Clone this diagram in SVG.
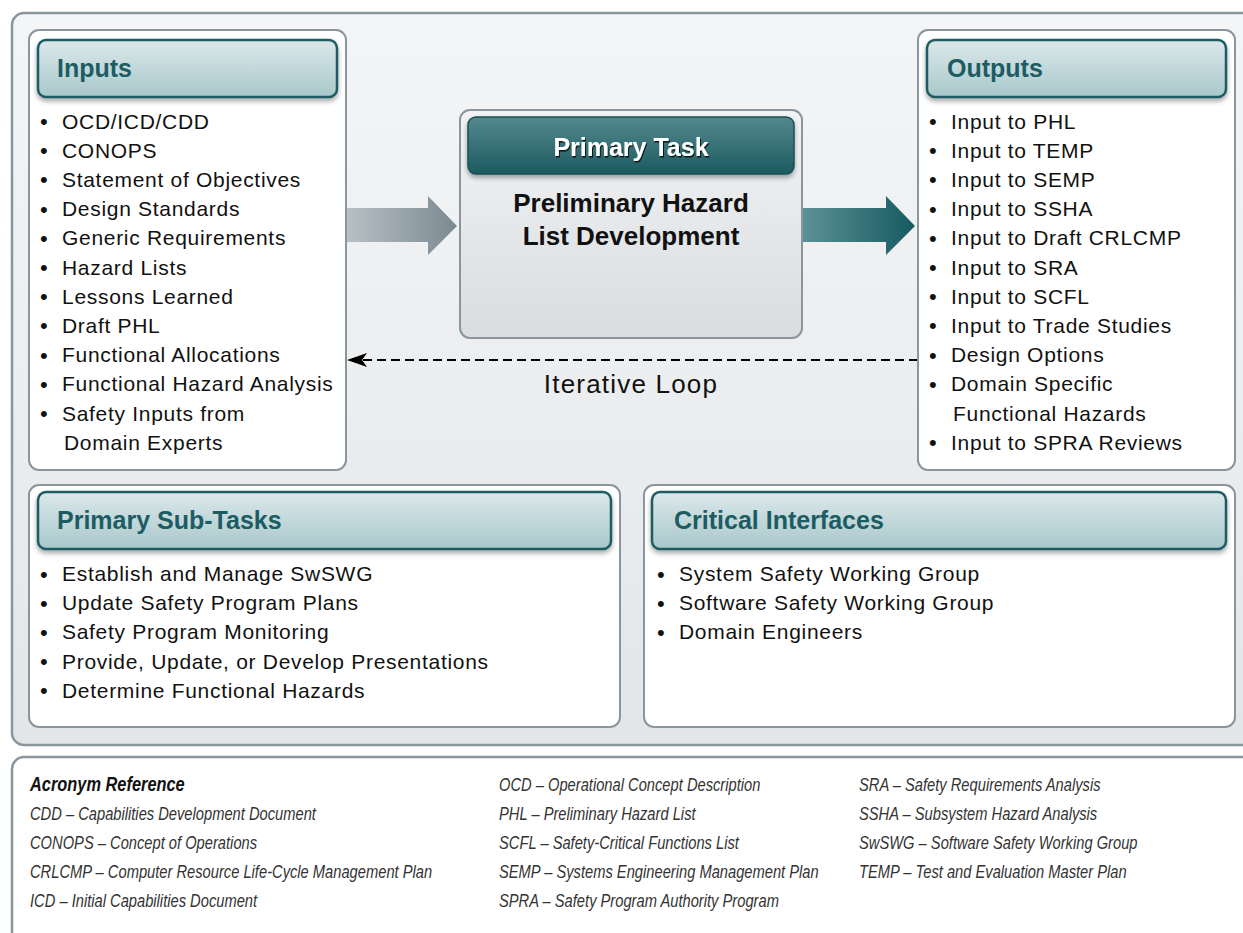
<svg xmlns="http://www.w3.org/2000/svg" width="1243" height="933" viewBox="0 0 1243 933">
<defs>
<linearGradient id="panelG" x1="0" y1="0" x2="0" y2="1"><stop offset="0" stop-color="#f4f5f6"/><stop offset="1" stop-color="#e3e6e9"/></linearGradient>
<linearGradient id="hdrG" x1="0" y1="0" x2="0" y2="1"><stop offset="0" stop-color="#dce8ea"/><stop offset="1" stop-color="#a8c8cb"/></linearGradient>
<linearGradient id="ptG" x1="0" y1="0" x2="0" y2="1"><stop offset="0" stop-color="#55898e"/><stop offset="1" stop-color="#1b5a60"/></linearGradient>
<linearGradient id="pbG" x1="0" y1="0" x2="0" y2="1"><stop offset="0" stop-color="#f2f3f4"/><stop offset="1" stop-color="#d9dde0"/></linearGradient>
<linearGradient id="arrL" x1="0" y1="0" x2="1" y2="0"><stop offset="0" stop-color="#b7c1c6"/><stop offset="1" stop-color="#7b8991"/></linearGradient>
<linearGradient id="arrR" x1="0" y1="0" x2="1" y2="0"><stop offset="0" stop-color="#5d9297"/><stop offset="1" stop-color="#155a60"/></linearGradient>
<filter id="sh" x="-5%" y="-20%" width="110%" height="150%"><feDropShadow dx="0" dy="3" stdDeviation="2.5" flood-color="#000" flood-opacity="0.35"/></filter>
<filter id="tsh" x="-10%" y="-30%" width="120%" height="160%"><feDropShadow dx="1" dy="1.5" stdDeviation="0.6" flood-color="#000" flood-opacity="0.8"/></filter>
</defs>
<style>
.box{fill:#fff;stroke:#8a959c;stroke-width:2}
.hdr{fill:url(#hdrG);stroke:#1e5d63;stroke-width:2.5}
.ht{font-family:"Liberation Sans",Arial,sans-serif;font-weight:bold;font-size:25px;fill:#1d5c63}
.it{font-family:"Liberation Sans",Arial,sans-serif;font-size:21px;fill:#111;letter-spacing:0.7px}
.bu{font-family:"Liberation Sans",Arial,sans-serif;font-size:22px;fill:#111}
.ac{font-family:"Liberation Sans",Arial,sans-serif;font-style:italic;font-size:17.5px;fill:#333}
.acb{font-family:"Liberation Sans",Arial,sans-serif;font-style:italic;font-weight:bold;font-size:19.5px;fill:#111}
</style>
<rect x="12" y="13" width="1250" height="732" rx="12" fill="url(#panelG)" stroke="#8a959c" stroke-width="2.5"/>

<g id="connectors">
<polygon points="346,208 428,208 428,196 457,226 428,255 428,242 346,242" fill="url(#arrL)"/>
<polygon points="802,208 886,208 886,196 915,226 886,255 886,242 802,242" fill="url(#arrR)"/>
<line x1="918" y1="360" x2="362" y2="360" stroke="#000" stroke-width="2" stroke-dasharray="9,5"/>
<polygon points="347,360 367,353 362,360 367,367" fill="#000"/>
<text x="631" y="393" text-anchor="middle" font-family="Liberation Sans,Arial,sans-serif" font-size="26" letter-spacing="1.2" fill="#111">Iterative Loop</text>
</g>

<g id="inputs">
<rect class="box" x="29" y="30" width="317" height="440" rx="10"/>
<rect class="hdr" x="38" y="40" width="299" height="57" rx="8" filter="url(#sh)"/>
<text class="ht" x="57" y="77">Inputs</text>
<g class="bu">
<text x="40" y="129">•</text><text x="40" y="158.2">•</text><text x="40" y="187.4">•</text><text x="40" y="216.6">•</text>
<text x="40" y="245.8">•</text><text x="40" y="275">•</text><text x="40" y="304.2">•</text><text x="40" y="333.4">•</text>
<text x="40" y="362.6">•</text><text x="40" y="391.8">•</text><text x="40" y="421">•</text>
</g>
<text class="it" x="62" y="128.5">OCD/ICD/CDD</text>
<text class="it" x="62" y="157.7">CONOPS</text>
<text class="it" x="62" y="186.9">Statement of Objectives</text>
<text class="it" x="62" y="216.1">Design Standards</text>
<text class="it" x="62" y="245.3">Generic Requirements</text>
<text class="it" x="62" y="274.5">Hazard Lists</text>
<text class="it" x="62" y="303.7">Lessons Learned</text>
<text class="it" x="62" y="332.9">Draft PHL</text>
<text class="it" x="62" y="362.1">Functional Allocations</text>
<text class="it" x="62" y="391.3">Functional Hazard Analysis</text>
<text class="it" x="62" y="420.5">Safety Inputs from</text>
<text class="it" x="64" y="449.7">Domain Experts</text>
</g>

<g id="primary-task">
<rect x="460" y="110" width="342" height="228" rx="10" fill="url(#pbG)" stroke="#8a959c" stroke-width="2"/>
<rect x="468" y="117" width="326" height="57" rx="8" fill="url(#ptG)" stroke="#184f55" stroke-width="1.5" filter="url(#sh)"/>
<text x="631" y="156" text-anchor="middle" font-family="Liberation Sans,Arial,sans-serif" font-weight="bold" font-size="25" fill="#fff" filter="url(#tsh)">Primary Task</text>
<text x="631" y="212" text-anchor="middle" font-family="Liberation Sans,Arial,sans-serif" font-weight="bold" font-size="26" fill="#111">Preliminary Hazard</text>
<text x="631" y="245" text-anchor="middle" font-family="Liberation Sans,Arial,sans-serif" font-weight="bold" font-size="26" fill="#111">List Development</text>
</g>

<g id="outputs">
<rect class="box" x="918" y="30" width="317" height="440" rx="10"/>
<rect class="hdr" x="927" y="40" width="299" height="57" rx="8" filter="url(#sh)"/>
<text class="ht" x="947" y="77">Outputs</text>
<g class="bu">
<text x="929" y="129">•</text><text x="929" y="158.2">•</text><text x="929" y="187.4">•</text><text x="929" y="216.6">•</text>
<text x="929" y="245.8">•</text><text x="929" y="275">•</text><text x="929" y="304.2">•</text><text x="929" y="333.4">•</text>
<text x="929" y="362.6">•</text><text x="929" y="391.8">•</text><text x="929" y="450.2">•</text>
</g>
<text class="it" x="951" y="128.5">Input to PHL</text>
<text class="it" x="951" y="157.7">Input to TEMP</text>
<text class="it" x="951" y="186.9">Input to SEMP</text>
<text class="it" x="951" y="216.1">Input to SSHA</text>
<text class="it" x="951" y="245.3">Input to Draft CRLCMP</text>
<text class="it" x="951" y="274.5">Input to SRA</text>
<text class="it" x="951" y="303.7">Input to SCFL</text>
<text class="it" x="951" y="332.9">Input to Trade Studies</text>
<text class="it" x="951" y="362.1">Design Options</text>
<text class="it" x="951" y="391.3">Domain Specific</text>
<text class="it" x="953" y="420.5">Functional Hazards</text>
<text class="it" x="951" y="449.7">Input to SPRA Reviews</text>
</g>

<g id="sub-tasks">
<rect class="box" x="29" y="485" width="591" height="242" rx="10"/>
<rect class="hdr" x="38" y="492" width="573" height="57" rx="8" filter="url(#sh)"/>
<text class="ht" x="57" y="529">Primary Sub-Tasks</text>
<g class="bu">
<text x="40" y="581.5">•</text><text x="40" y="610.7">•</text><text x="40" y="639.9">•</text><text x="40" y="669.1">•</text><text x="40" y="698.3">•</text>
</g>
<text class="it" x="62" y="581">Establish and Manage SwSWG</text>
<text class="it" x="62" y="610.2">Update Safety Program Plans</text>
<text class="it" x="62" y="639.4">Safety Program Monitoring</text>
<text class="it" x="62" y="668.6">Provide, Update, or Develop Presentations</text>
<text class="it" x="62" y="697.8">Determine Functional Hazards</text>
</g>

<g id="critical-interfaces">
<rect class="box" x="644" y="485" width="591" height="242" rx="10"/>
<rect class="hdr" x="652" y="492" width="574" height="57" rx="8" filter="url(#sh)"/>
<text class="ht" x="674" y="529">Critical Interfaces</text>
<g class="bu">
<text x="657" y="581.5">•</text><text x="657" y="610.7">•</text><text x="657" y="639.9">•</text>
</g>
<text class="it" x="679" y="581">System Safety Working Group</text>
<text class="it" x="679" y="610.2">Software Safety Working Group</text>
<text class="it" x="679" y="639.4">Domain Engineers</text>
</g>

<g id="acronyms">
<rect x="12" y="757" width="1250" height="200" rx="12" fill="#fff" stroke="#8a959c" stroke-width="2.5"/>
<g transform="translate(30 0) scale(0.84 1)">
<text class="acb" x="0" y="791">Acronym Reference</text>
<text class="ac" x="0" y="820">CDD – Capabilities Development Document</text>
<text class="ac" x="0" y="849">CONOPS – Concept of Operations</text>
<text class="ac" x="0" y="878">CRLCMP – Computer Resource Life-Cycle Management Plan</text>
<text class="ac" x="0" y="907">ICD – Initial Capabilities Document</text>
</g>
<g transform="translate(499 0) scale(0.84 1)">
<text class="ac" x="0" y="791">OCD – Operational Concept Description</text>
<text class="ac" x="0" y="820">PHL – Preliminary Hazard List</text>
<text class="ac" x="0" y="849">SCFL – Safety-Critical Functions List</text>
<text class="ac" x="0" y="878">SEMP – Systems Engineering Management Plan</text>
<text class="ac" x="0" y="907">SPRA – Safety Program Authority Program</text>
</g>
<g transform="translate(859 0) scale(0.84 1)">
<text class="ac" x="0" y="791">SRA – Safety Requirements Analysis</text>
<text class="ac" x="0" y="820">SSHA – Subsystem Hazard Analysis</text>
<text class="ac" x="0" y="849">SwSWG – Software Safety Working Group</text>
<text class="ac" x="0" y="878">TEMP – Test and Evaluation Master Plan</text>
</g>
</g>
</svg>
